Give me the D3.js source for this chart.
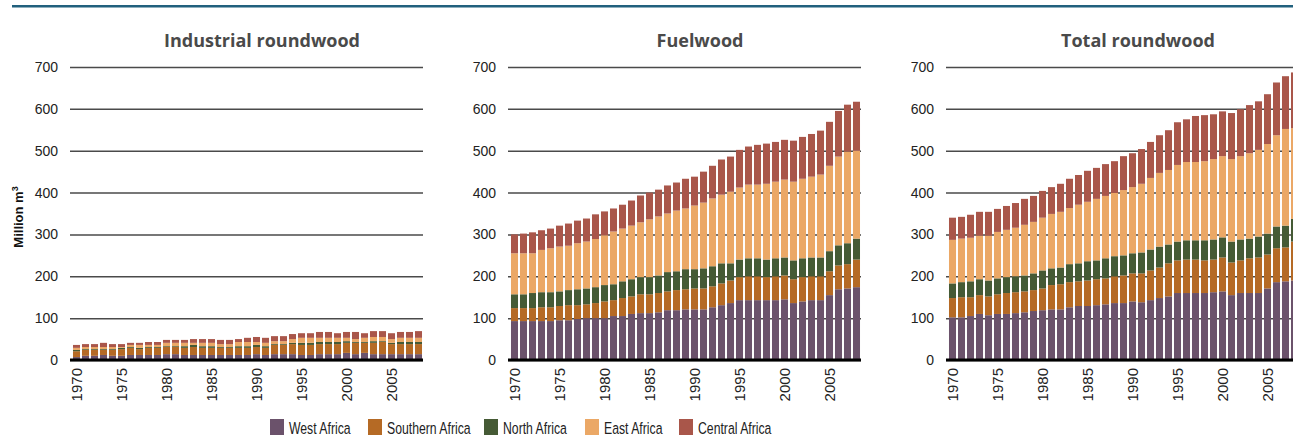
<!DOCTYPE html>
<html>
<head>
<meta charset="utf-8">
<script src="https://cdn.jsdelivr.net/npm/d3@7"></script>
<style>
  body { margin: 0; background: #fff; }
  svg { display: block; }
</style>
</head>
<body>
<div id="chart"></div>
<script>
// categories
var years = [1970, 1971, 1972, 1973, 1974, 1975, 1976, 1977, 1978, 1979,
             1980, 1981, 1982, 1983, 1984, 1985, 1986, 1987, 1988, 1989,
             1990, 1991, 1992, 1993, 1994, 1995, 1996, 1997, 1998, 1999,
             2000, 2001, 2002, 2003, 2004, 2005, 2006, 2007, 2008];
var regions = ["West Africa", "Southern Africa", "North Africa", "East Africa", "Central Africa"];
var panelTitles = ["Industrial roundwood", "Fuelwood", "Total roundwood"];
var yTicks = [0, 100, 200, 300, 400, 500, 600, 700];
var xTickYears = [1970, 1975, 1980, 1985, 1990, 1995, 2000, 2005];

// Industrial roundwood, million m3
var indWest     = [7,10,10,12,10,10,12,12,12,12,14,14,12,12,12,12,12,12,12,12,14,12,14,14,14,12,12,14,14,14,17,14,17,14,14,14,14,14,14];
var indSouthern = [14,14,14,12,14,16,17,14,17,17,17,17,17,19,17,17,17,17,17,17,17,17,22,22,24,24,24,24,24,24,24,27,24,27,29,24,24,24,24];
var indNorth    = [3,2,2,2,2,3,2,3,2,2,2,2,4,5,4,4,2,2,4,4,5,4,2,2,3,5,5,5,5,5,4,2,2,4,2,3,5,5,5];
var indEast     = [5,5,5,5,5,2,5,7,5,5,8,8,8,5,8,8,7,7,10,10,7,8,7,7,9,12,12,10,10,10,8,7,10,10,10,9,10,10,10];
var indCentral  = [7,7,7,10,7,7,5,5,7,7,7,7,7,9,9,9,10,10,7,10,12,12,12,12,12,11,11,14,14,11,14,17,11,14,14,14,14,14,16];

// Fuelwood, million m3
var fuelWest     = [93,93,93,93,93,95,95,98,100,100,100,105,105,110,112,112,114,119,119,121,121,121,126,131,136,143,143,143,143,143,145,136,140,143,143,155,169,171,174];
var fuelSouthern = [31,31,31,33,33,34,36,33,33,36,40,38,43,42,45,45,46,45,48,48,50,50,50,52,54,55,57,57,55,57,57,57,58,57,57,57,57,58,66];
var fuelNorth    = [33,33,36,36,36,35,36,38,38,38,39,38,40,41,41,41,42,46,45,48,46,48,48,48,41,42,43,43,42,43,43,45,45,45,45,48,48,50,50];
var fuelEast     = [98,98,95,101,105,107,106,110,112,115,119,126,126,128,131,138,141,140,145,145,152,157,162,164,171,172,176,176,181,183,186,188,190,193,198,204,212,219,210];
var fuelCentral  = [45,47,50,47,47,50,53,54,55,59,57,55,57,60,64,64,64,67,67,71,69,74,78,84,84,90,91,95,96,95,95,98,100,102,105,105,109,112,117];

// Total roundwood, million m3
var totWest     = [102,102,105,110,107,110,110,112,114,117,119,121,121,126,129,129,131,133,136,136,140,138,143,148,152,160,160,160,160,162,164,155,160,160,160,171,186,188,190];
var totSouthern = [46,48,45,45,45,47,50,50,50,50,52,58,60,60,59,61,62,62,64,66,67,69,71,73,79,78,80,80,78,78,81,78,78,83,85,81,81,81,93];
var totNorth    = [35,36,38,38,38,38,38,38,38,40,43,40,40,43,43,46,45,48,48,48,48,50,50,50,45,45,46,46,48,48,48,50,50,47,50,50,52,52,54];
var totEast     = [104,104,104,104,107,111,113,116,121,123,126,130,133,134,140,142,147,149,151,156,158,164,171,176,178,183,187,187,189,192,194,197,199,204,207,214,218,231,217];
var totCentral  = [53,52,55,57,57,55,57,59,62,62,64,64,67,70,71,74,74,76,76,81,81,83,86,90,95,102,102,110,110,107,107,110,112,115,116,119,126,126,133];

var colors = ["#6b526b", "#b56a25", "#455a35", "#eba866", "#a9564a"];

var panels = [
  [indWest, indSouthern, indNorth, indEast, indCentral],
  [fuelWest, fuelSouthern, fuelNorth, fuelEast, fuelCentral],
  [totWest, totSouthern, totNorth, totEast, totCentral]
];

var width = 1293, height = 436;
var plotW = 351, plotTop = 67, plotBottom = 360;
var panelLeft = [72, 510, 948];
var legendX = [270, 368, 484, 585, 679];

var svg = d3.select("#chart")
  .append("svg")
    .attr("width", width)
    .attr("height", height);

// rule at the top of the figure
svg.append("rect")
  .attr("x", 12).attr("y", 5)
  .attr("width", width - 12).attr("height", 2.5)
  .attr("fill", "#21607d");

var y = d3.scaleLinear()
  .domain([0, 700])
  .range([plotBottom, plotTop]);

var color = d3.scaleOrdinal().domain(regions).range(colors);

panels.forEach(function(series, p) {
  var x0 = panelLeft[p];

  var x = d3.scaleBand()
    .domain(years)
    .range([x0, x0 + plotW])
    .paddingInner(0.22)
    .paddingOuter(0.11);

  // rows for the stack
  var rows = years.map(function(yr, i) {
    var r = {year: yr};
    regions.forEach(function(k, j) { r[k] = series[j][i]; });
    return r;
  });
  var stacked = d3.stack().keys(regions)(rows);

  var g = svg.append("g");

  // title
  g.append("text")
    .attr("x", x0 + 190)
    .attr("y", 47)
    .attr("text-anchor", "middle")
    .style("font-family", "'Open Sans', sans-serif")
    .style("font-weight", "bold")
    .style("font-size", "18px")
    .style("fill", "#4a4a4a")
    .text(panelTitles[p]);

  // gridlines + y labels
  var yAxis = g.append("g")
    .attr("transform", "translate(" + (x0 - 2) + ",0)")
    .call(d3.axisLeft(y).tickValues(yTicks).tickSize(-(plotW + 2)).tickPadding(12));
  yAxis.select(".domain").remove();
  yAxis.selectAll(".tick line")
    .attr("stroke", "#4a4a4a")
    .attr("stroke-width", 1.5);
  yAxis.selectAll(".tick text")
    .style("font-family", "'Liberation Sans', Arial, sans-serif")
    .style("font-size", "14px")
    .style("fill", "#222");

  // bars
  g.selectAll("g.layer")
    .data(stacked)
    .enter()
    .append("g")
      .attr("class", "layer")
      .attr("fill", function(d) { return color(d.key); })
    .selectAll("rect")
    .data(function(d) { return d; })
    .enter()
    .append("rect")
      .attr("x", function(d) { return x(d.data.year); })
      .attr("y", function(d) { return y(d[1]); })
      .attr("width", x.bandwidth())
      .attr("height", function(d) { return y(d[0]) - y(d[1]); });

  // baseline
  g.append("line")
    .attr("x1", x0 - 2).attr("x2", x0 + plotW)
    .attr("y1", plotBottom).attr("y2", plotBottom)
    .attr("stroke", "#000")
    .attr("stroke-width", 3);

  // x labels, rotated
  var xAxis = g.append("g")
    .attr("transform", "translate(0," + plotBottom + ")")
    .call(d3.axisBottom(x).tickValues(xTickYears).tickSize(0).tickPadding(0));
  xAxis.select(".domain").remove();
  xAxis.selectAll(".tick text")
    .attr("transform", "rotate(-90)")
    .attr("x", -8)
    .attr("y", 0)
    .attr("dy", "0.35em")
    .attr("text-anchor", "end")
    .style("font-family", "'Liberation Sans', Arial, sans-serif")
    .style("font-size", "15px")
    .style("fill", "#222");
});

// y axis title
svg.append("text")
  .attr("transform", "translate(23,217) rotate(-90)")
  .attr("text-anchor", "middle")
  .style("font-family", "'Liberation Sans', Arial, sans-serif")
  .style("font-weight", "bold")
  .style("font-size", "13px")
  .style("fill", "#111")
  .html("Million m<tspan dy='-5' font-size='9px'>3</tspan>");

// legend
var legend = svg.selectAll("g.legend")
  .data(regions)
  .enter()
  .append("g")
    .attr("class", "legend")
    .attr("transform", function(d, i) { return "translate(" + legendX[i] + ",419)"; });

legend.append("rect")
  .attr("width", 14).attr("height", 16)
  .attr("fill", function(d) { return color(d); });

legend.append("text")
  .attr("transform", "translate(19,15) scale(0.72,1)")
  .style("font-family", "'Liberation Sans', Arial, sans-serif")
  .style("font-size", "17px")
  .style("fill", "#222")
  .text(function(d) { return d; });
</script>
</body>
</html>
